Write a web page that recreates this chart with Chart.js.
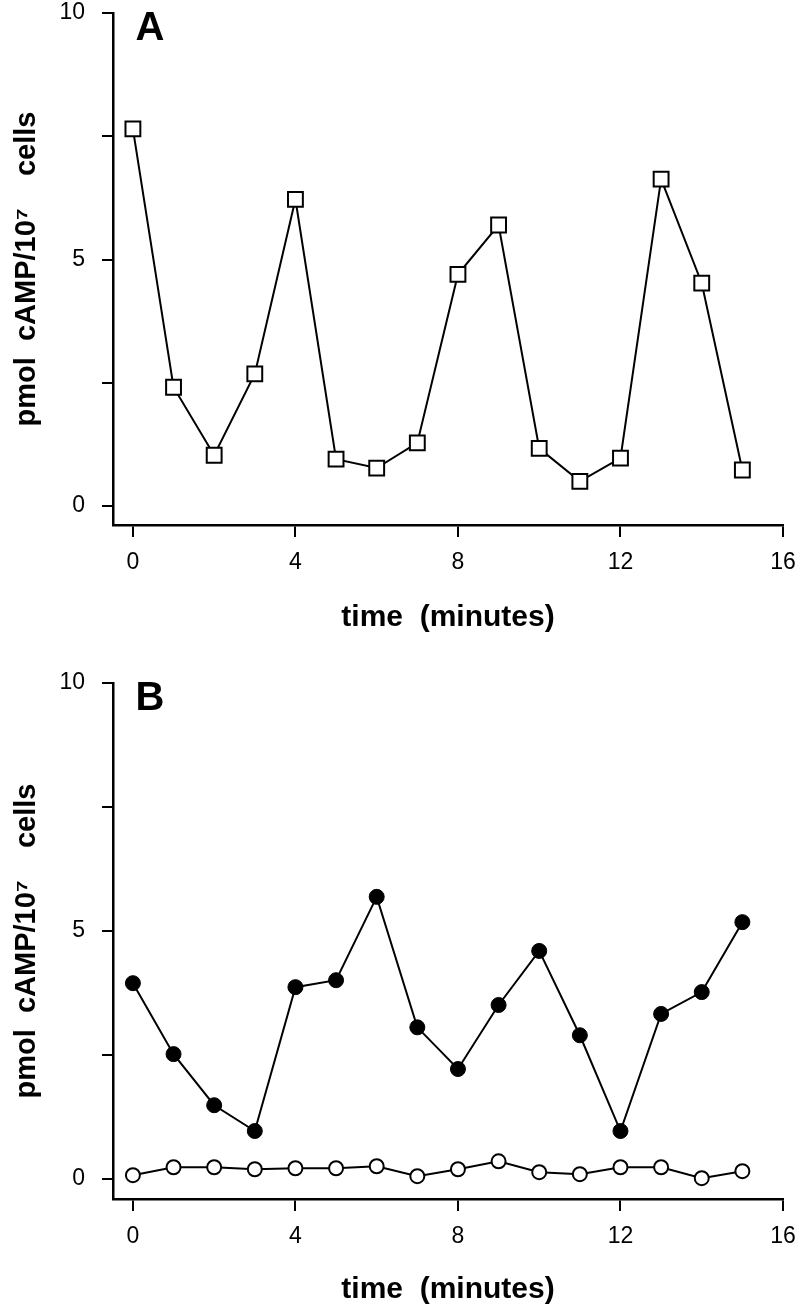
<!DOCTYPE html>
<html>
<head>
<meta charset="utf-8">
<script src="https://cdn.jsdelivr.net/npm/chart.js@4.4.1/dist/chart.umd.min.js"></script>
<style>
  body { margin: 0; background: #fff; }
  .panel { position: absolute; left: 0; width: 800px; height: 653px; }
</style>
</head>
<body>
<div class="panel" style="top:0"><canvas id="chartA"></canvas></div>
<div class="panel" style="top:653px"><canvas id="chartB"></canvas></div>
<script>
// time points (minutes)
const times = [0, 1, 2, 3, 4, 5, 6, 7, 8, 9, 10, 11, 12, 13, 14, 15];
// panel A, open squares
const campA = [7.65, 2.41, 1.03, 2.68, 6.22, 0.95, 0.77, 1.28, 4.70, 5.70, 1.17, 0.50, 0.97, 6.63, 4.52, 0.73];
// panel B, filled circles
const campBFilled = [3.95, 2.52, 1.49, 0.97, 3.87, 4.01, 5.69, 3.06, 2.22, 3.51, 4.60, 2.90, 0.97, 3.33, 3.77, 5.18];
// panel B, open circles
const campBOpen = [0.08, 0.24, 0.24, 0.20, 0.22, 0.22, 0.26, 0.06, 0.20, 0.36, 0.14, 0.10, 0.24, 0.24, 0.02, 0.16];

const xTicks = [0, 4, 8, 12, 16];
const yTicks = [0, 2.5, 5, 7.5, 10];
const yLabels = [0, 5, 10];

Chart.defaults.color = '#000';
Chart.defaults.font.family = '"Liberation Sans", Arial, Helvetica, sans-serif';

function pts(ys) {
  return times.map((t, i) => ({x: t, y: ys[i]}));
}

const panelLabel = {
  id: 'panelLabel',
  afterDraw(chart, args, opts) {
    const ctx = chart.ctx;
    const a = chart.chartArea;
    ctx.save();
    ctx.font = 'bold 40px "Liberation Sans", Arial, sans-serif';
    ctx.fillStyle = '#000';
    ctx.textAlign = 'center';
    ctx.textBaseline = 'middle';
    ctx.fillText(opts.text, a.left + 37, a.top + 16);
    ctx.restore();
  }
};

// cfg: padTop, xHeight (height of x scale box), titlePad, yMin
function makeChart(id, label, datasets, cfg) {
  return new Chart(document.getElementById(id), {
    type: 'line',
    data: { datasets: datasets },
    plugins: [panelLabel],
    options: {
      responsive: true,
      maintainAspectRatio: false,
      animation: false,
      layout: { padding: { top: cfg.padTop, right: 17, left: 0, bottom: 0 } },
      plugins: {
        legend: { display: false },
        tooltip: { enabled: false },
        panelLabel: { text: label }
      },
      scales: {
        x: {
          type: 'linear',
          min: -0.49,
          max: 16,
          afterBuildTicks: s => { s.ticks = xTicks.map(v => ({value: v})); },
          afterFit: s => { s.height = cfg.xHeight; s.paddingLeft = 0; s.paddingRight = 0; },
          border: { display: true, color: '#000', width: 2.5 },
          grid: { drawOnChartArea: false, drawTicks: true, tickLength: 12, color: '#000', lineWidth: 2 },
          ticks: { font: { size: 23 }, padding: 12, maxRotation: 0 },
          title: {
            display: true,
            text: 'time  (minutes)',
            font: { size: 30, weight: 'bold', lineHeight: 1 },
            padding: { top: 0, bottom: cfg.titlePad }
          }
        },
        y: {
          min: cfg.yMin,
          max: 10,
          afterBuildTicks: s => { s.ticks = yTicks.map(v => ({value: v})); },
          afterFit: s => { s.width = 113; s.paddingTop = 0; s.paddingBottom = 0; },
          border: { display: true, color: '#000', width: 2.5 },
          grid: { drawOnChartArea: false, drawTicks: true, tickLength: 11, color: '#000', lineWidth: 2 },
          ticks: {
            font: { size: 23 },
            padding: 17,
            callback: v => yLabels.includes(v) ? String(v) : ''
          },
          title: {
            display: true,
            text: 'pmol  cAMP/10\u2077    cells',
            font: { size: 29, weight: 'bold', lineHeight: 1 },
            padding: { top: 12, bottom: 0 }
          }
        }
      }
    }
  });
}

makeChart('chartA', 'A', [{
  data: pts(campA),
  borderColor: '#000',
  borderWidth: 2,
  tension: 0,
  pointStyle: 'rect',
  pointRadius: 10.5,
  pointBackgroundColor: '#fff',
  pointBorderColor: '#000',
  pointBorderWidth: 2,
  clip: false
}], { padTop: 13, xHeight: 128, titlePad: 20, yMin: -0.385 });

makeChart('chartB', 'B', [{
  data: pts(campBFilled),
  borderColor: '#000',
  borderWidth: 2,
  tension: 0,
  pointStyle: 'circle',
  pointRadius: 7.5,
  pointBackgroundColor: '#000',
  pointBorderColor: '#000',
  pointBorderWidth: 1,
  clip: false
}, {
  data: pts(campBOpen),
  borderColor: '#000',
  borderWidth: 2,
  tension: 0,
  pointStyle: 'circle',
  pointRadius: 7,
  pointBackgroundColor: '#fff',
  pointBorderColor: '#000',
  pointBorderWidth: 2,
  clip: false
}], { padTop: 30, xHeight: 107, titlePad: 1, yMin: -0.40 });
</script>
</body>
</html>
